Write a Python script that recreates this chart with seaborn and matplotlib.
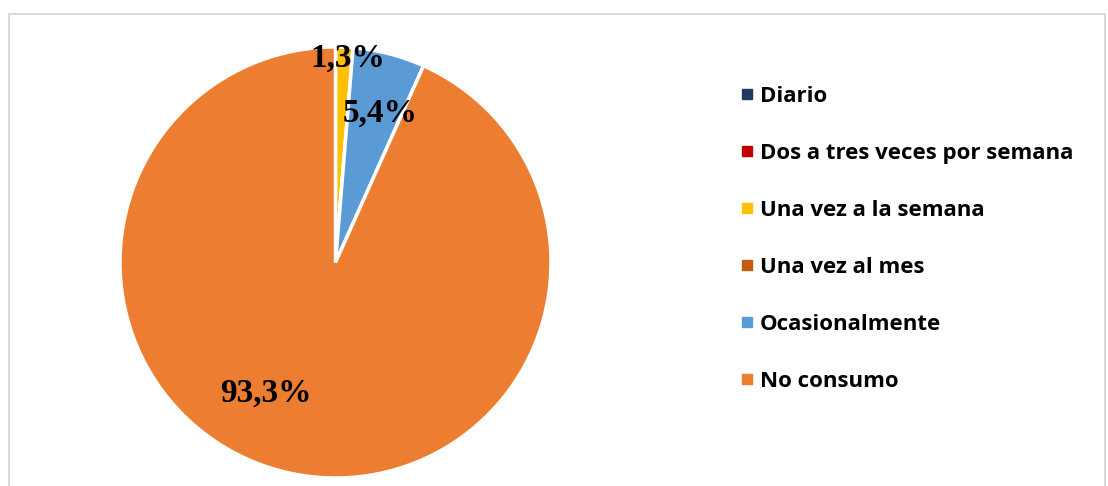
import matplotlib
matplotlib.use("Agg")
import matplotlib.pyplot as plt
from matplotlib.lines import Line2D
from matplotlib.patches import Rectangle
import numpy as np
import seaborn as sns

# Frecuencia de consumo (%)
categorias = ["Diario", "Dos a tres veces por semana", "Una vez a la semana",
              "Una vez al mes", "Ocasionalmente", "No consumo"]
porcentajes = [0.0, 0.0, 1.3, 0.0, 5.4, 93.3]
etiquetas = ["", "", "1,3%", "", "5,4%", "93,3%"]
colores = ["#1F3864", "#C00000", "#FFC000", "#C55A11", "#5B9BD5", "#ED7D31"]

sns.set_theme(style="white")
plt.rcParams["font.family"] = ["Open Sans", "DejaVu Sans"]
plt.rcParams["text.color"] = "black"

W, H = 1108, 486
fig = plt.figure(figsize=(W / 100, H / 100), dpi=100)

# outer chart border
fig.patches.append(Rectangle((9 / W, -0.05), 1096 / W, 1.05 - 14 / H,
                             transform=fig.transFigure, fill=False,
                             edgecolor="#D9D9D9", linewidth=1.4))

ax = fig.add_axes([120 / W, 8 / H, 431 / W, 431 / H])
wedges, _ = ax.pie(porcentajes, colors=colores, startangle=90, counterclock=False,
                   radius=1.0, wedgeprops=dict(edgecolor="white", linewidth=2.5))
ax.set_xlim(-1, 1)
ax.set_ylim(-1, 1)
ax.set_aspect("equal")
ax.axis("off")

# label placement (radius fraction, angle shift in degrees) per slice
lab_r = [0, 0, 0.95, 0, 0.725, 0.69]
lab_shift = [0, 0, -1.2, 0, -2.2, -16]
for w, txt, r, s in zip(wedges, etiquetas, lab_r, lab_shift):
    if not txt:
        continue
    ang = np.deg2rad((w.theta1 + w.theta2) / 2 + s)
    ax.text(r * np.cos(ang), r * np.sin(ang), txt, ha="center", va="center",
            fontsize=24, fontweight="bold", family="Liberation Serif", color="black")

handles = [Line2D([0], [0], marker="s", linestyle="", markersize=6.5,
                  markerfacecolor=c, markeredgecolor=c) for c in colores]
fig.legend(handles, categorias, loc="upper left", bbox_to_anchor=(729 / W, 1 - 77 / H),
           frameon=False, prop=dict(family="Open Sans", weight="bold", size=16),
           labelspacing=1.62, handlelength=0.8, handletextpad=0.2, borderaxespad=0,
           labelcolor="black")

fig.savefig("out.png", dpi=100, facecolor="white")
